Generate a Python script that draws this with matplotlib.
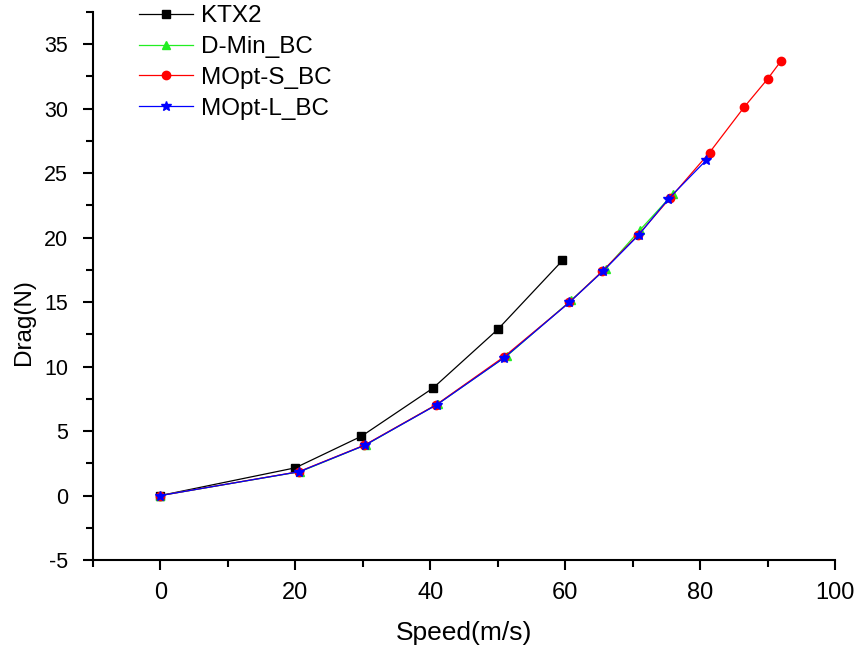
import matplotlib
matplotlib.use("Agg")
import matplotlib.pyplot as plt
from matplotlib.ticker import MultipleLocator

plt.rcParams['font.family'] = ['Liberation Sans', 'DejaVu Sans']
plt.rcParams['axes.unicode_minus'] = False

# Data
ktx2_x = [0, 20.0, 29.8, 40.4, 50.0, 59.6]
ktx2_y = [0, 2.15, 4.6, 8.33, 12.88, 18.23]

dmin_x = [0, 20.7, 30.4, 41.1, 51.4, 60.9, 66.0, 71.1, 76.0]
dmin_y = [0, 1.85, 3.92, 7.1, 10.85, 15.15, 17.6, 20.6, 23.4]

mopts_x = [0, 20.5, 30.2, 40.9, 50.9, 60.6, 65.5, 70.8, 75.6, 81.4, 86.5, 90.0, 92.0]
mopts_y = [0, 1.85, 3.9, 7.05, 10.75, 14.97, 17.4, 20.2, 23.1, 26.6, 30.1, 32.3, 33.7]

moptl_x = [0, 20.6, 30.3, 41.0, 51.0, 60.6, 65.6, 70.9, 75.3, 80.9]
moptl_y = [0, 1.85, 3.9, 7.05, 10.7, 14.97, 17.4, 20.2, 23.0, 26.0]

x_ticks = [0, 20, 40, 60, 80, 100]
y_ticks = [-5, 0, 5, 10, 15, 20, 25, 30, 35]

fig = plt.figure(figsize=(8.55, 6.48), dpi=100)
ax = fig.add_axes([0.1088, 0.1358, 0.8678, 0.8457])

ax.plot(ktx2_x, ktx2_y, color='black', lw=0.9, marker='s', ms=5.5, label='KTX2')
ax.plot(dmin_x, dmin_y, color='#22ee22', lw=0.9, marker='^', ms=6, label='D-Min_BC')
ax.plot(mopts_x, mopts_y, color='red', lw=0.9, marker='o', ms=6, label='MOpt-S_BC')
ax.plot(moptl_x, moptl_y, color='blue', lw=0.9, marker='*', ms=7.5, label='MOpt-L_BC')

ax.set_xlim(-10, 100)
ax.set_ylim(-5, 37.5)
ax.set_xticks(x_ticks)
ax.set_yticks(y_ticks)
ax.xaxis.set_minor_locator(MultipleLocator(10))
ax.yaxis.set_minor_locator(MultipleLocator(2.5))

for s in ['top', 'right']:
    ax.spines[s].set_visible(False)
for s in ['left', 'bottom']:
    ax.spines[s].set_linewidth(1.5)

ax.tick_params(which='major', direction='out', length=7, width=1.5)
ax.tick_params(which='minor', direction='out', length=5, width=1.5)
ax.tick_params(axis='y', which='major', labelsize=15.5, pad=11)
ax.tick_params(axis='x', which='major', labelsize=17, pad=9)

ax.set_xlabel('Speed(m/s)', fontsize=19, labelpad=12)
ax.set_ylabel('Drag(N)', fontsize=17.5)
ax.yaxis.set_label_coords(-0.078, 0.435)

ax.legend(loc='upper left', bbox_to_anchor=(0.049, 1.03), frameon=False, fontsize=17.5,
          handlelength=2.2, handletextpad=0.35, labelspacing=0.36, borderaxespad=0)

fig.savefig('out.png', dpi=100)
